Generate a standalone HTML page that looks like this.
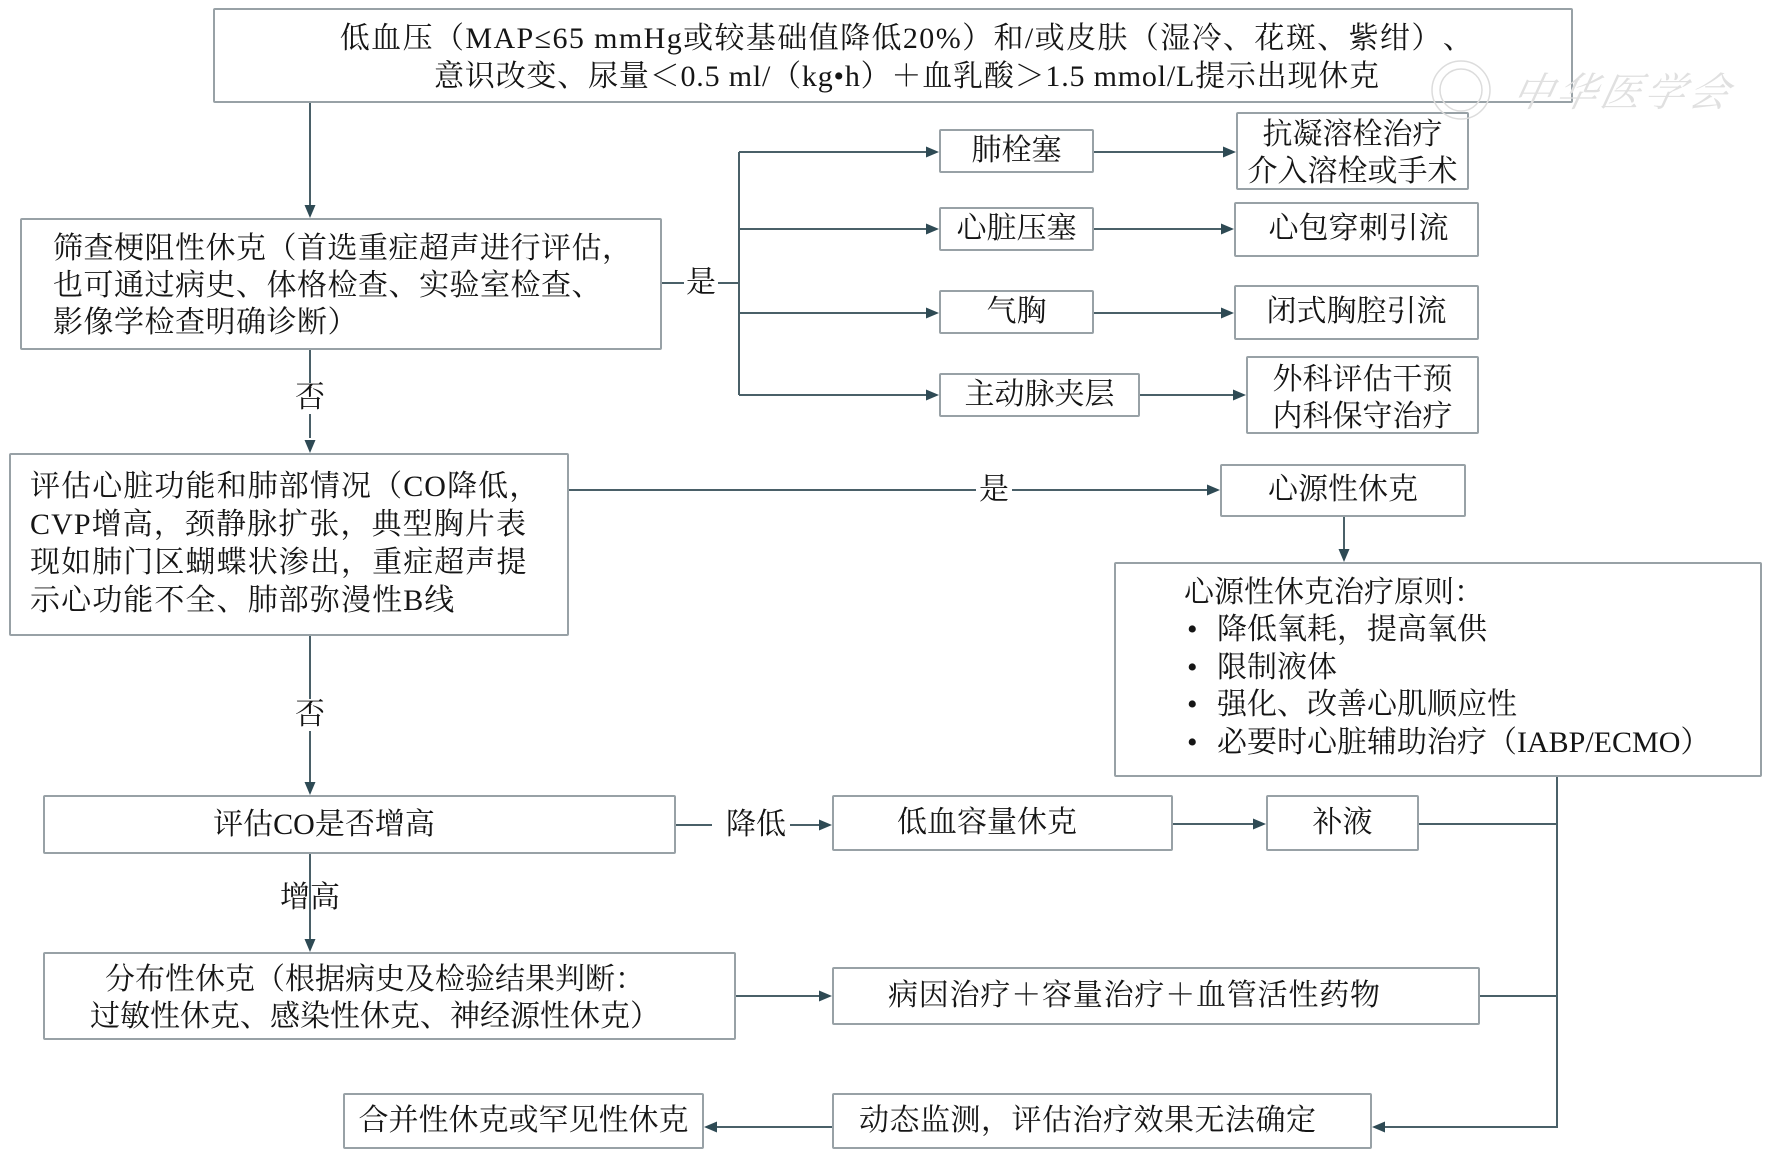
<!DOCTYPE html>
<html>
<head>
<meta charset="utf-8">
<style>
html,body{margin:0;padding:0;background:#fff;}
#c{position:relative;width:1772px;height:1155px;overflow:hidden;background:#fff;}
.b{position:absolute;border:2px solid #98a1a6;border-radius:2px;background:#fff;box-sizing:border-box;}
.t{position:absolute;font-family:"Liberation Serif","Noto Serif CJK SC",serif;font-size:30px;color:#151515;white-space:nowrap;line-height:36px;text-spacing-trim:space-all;}
.c{text-align:center;}
svg{position:absolute;left:0;top:0;}
</style>
</head>
<body>
<div id="c">

<!-- boxes -->
<div class="b" style="left:213px;top:8px;width:1360px;height:95px;"></div>
<div class="b" style="left:20px;top:218px;width:642px;height:132px;"></div>
<div class="b" style="left:939px;top:129px;width:155px;height:44px;"></div>
<div class="b" style="left:939px;top:207px;width:155px;height:44px;"></div>
<div class="b" style="left:939px;top:290px;width:155px;height:44px;"></div>
<div class="b" style="left:939px;top:373px;width:201px;height:44px;"></div>
<div class="b" style="left:1236px;top:112px;width:233px;height:78px;"></div>
<div class="b" style="left:1234px;top:202px;width:245px;height:55px;"></div>
<div class="b" style="left:1234px;top:285px;width:245px;height:55px;"></div>
<div class="b" style="left:1246px;top:356px;width:233px;height:78px;"></div>
<div class="b" style="left:9px;top:453px;width:560px;height:183px;"></div>
<div class="b" style="left:1220px;top:464px;width:246px;height:53px;"></div>
<div class="b" style="left:1114px;top:562px;width:648px;height:215px;"></div>
<div class="b" style="left:43px;top:795px;width:633px;height:59px;"></div>
<div class="b" style="left:832px;top:795px;width:341px;height:56px;"></div>
<div class="b" style="left:1266px;top:795px;width:153px;height:56px;"></div>
<div class="b" style="left:43px;top:952px;width:693px;height:88px;"></div>
<div class="b" style="left:832px;top:967px;width:648px;height:58px;"></div>
<div class="b" style="left:343px;top:1093px;width:361px;height:56px;"></div>
<div class="b" style="left:832px;top:1093px;width:540px;height:56px;"></div>

<!-- connectors -->
<svg width="1772" height="1155" viewBox="0 0 1772 1155">
<g fill="none" stroke="#4a6068" stroke-width="2">
<path d="M310 103 V206"/>
<path d="M662 283 H684 M718 283 H739"/>
<path d="M739 152 V395"/>
<path d="M739 152 H927 M739 229 H927 M739 313 H927 M739 395 H927"/>
<path d="M1094 152 H1223 M1094 229 H1222 M1094 313 H1222 M1140 395 H1234"/>
<path d="M310 350 V383 M310 414 V438"/>
<path d="M569 490 H976 M1012 490 H1207"/>
<path d="M1344 517 V550"/>
<path d="M310 636 V699 M310 731 V783"/>
<path d="M676 825 H712 M790 825 H820"/>
<path d="M1173 824 H1254"/>
<path d="M1419 824 H1557"/>
<path d="M310 854 V940"/>
<path d="M736 996 H820"/>
<path d="M1480 996 H1557"/>
<path d="M1557 777 V1127 H1384"/>
<path d="M832 1127 H716"/>
</g>
<g fill="#2e4a54">
<polygon points="310,218 304.5,205 315.5,205"/>
<polygon points="939,152 926,146.5 926,157.5"/>
<polygon points="939,229 926,223.5 926,234.5"/>
<polygon points="939,313 926,307.5 926,318.5"/>
<polygon points="939,395 926,389.5 926,400.5"/>
<polygon points="1236,152 1223,146.5 1223,157.5"/>
<polygon points="1234,229 1221,223.5 1221,234.5"/>
<polygon points="1234,313 1221,307.5 1221,318.5"/>
<polygon points="1246,395 1233,389.5 1233,400.5"/>
<polygon points="310,453 304.5,440 315.5,440"/>
<polygon points="1220,490 1207,484.5 1207,495.5"/>
<polygon points="1344,562 1338.5,549 1349.5,549"/>
<polygon points="310,795 304.5,782 315.5,782"/>
<polygon points="832,825 819,819.5 819,830.5"/>
<polygon points="1266,824 1253,818.5 1253,829.5"/>
<polygon points="310,952 304.5,939 315.5,939"/>
<polygon points="832,996 819,990.5 819,1001.5"/>
<polygon points="1372,1127 1385,1121.5 1385,1132.5"/>
<polygon points="704,1127 717,1121.5 717,1132.5"/>
</g>
<!-- watermark -->
<g fill="none" stroke="#dcdcdc" stroke-width="1.5">
<circle cx="1461" cy="90" r="29"/>
<circle cx="1461" cy="90" r="21"/>
</g>
<text x="1513" y="106" font-family="Noto Serif CJK SC, serif" font-size="40" fill="#e0e0e0" font-style="italic" letter-spacing="4" transform="skewX(-12) translate(20,0)">中华医学会</text>
</svg>

<!-- text -->
<div class="t c" style="left:227px;top:20px;width:1360px;line-height:38px;letter-spacing:1.4px;">低血压（MAP≤65 mmHg或较基础值降低20%）和/或皮肤（湿冷、花斑、紫绀）、</div>
<div class="t c" style="left:227px;top:58px;width:1360px;line-height:38px;letter-spacing:0.8px;">意识改变、尿量＜0.5 ml/（kg•h）＋血乳酸＞1.5 mmol/L提示出现休克</div>

<div class="t" style="left:53px;top:230px;line-height:37px;letter-spacing:0.5px;">筛查梗阻性休克（首选重症超声进行评估，<br>也可通过病史、体格检查、实验室检查、<br>影像学检查明确诊断）</div>

<div class="t c" style="left:684px;top:265px;width:34px;background:#fff;">是</div>

<div class="t c" style="left:939px;top:133px;width:155px;">肺栓塞</div>
<div class="t c" style="left:939px;top:211px;width:155px;">心脏压塞</div>
<div class="t c" style="left:939px;top:294px;width:155px;">气胸</div>
<div class="t c" style="left:939px;top:377px;width:201px;">主动脉夹层</div>

<div class="t c" style="left:1236px;top:116px;width:233px;line-height:37px;">抗凝溶栓治疗<br>介入溶栓或手术</div>
<div class="t c" style="left:1234px;top:211px;width:249px;">心包穿刺引流</div>
<div class="t c" style="left:1234px;top:294px;width:245px;">闭式胸腔引流</div>
<div class="t c" style="left:1246px;top:361px;width:233px;line-height:37px;">外科评估干预<br>内科保守治疗</div>

<div class="t c" style="left:292px;top:380px;width:36px;">否</div>

<div class="t" style="left:30px;top:468px;line-height:38px;letter-spacing:1.1px;">评估心脏功能和肺部情况（CO降低，<br>CVP增高，颈静脉扩张，典型胸片表<br>现如肺门区蝴蝶状渗出，重症超声提<br>示心功能不全、肺部弥漫性B线</div>

<div class="t c" style="left:976px;top:472px;width:36px;">是</div>
<div class="t c" style="left:1220px;top:472px;width:246px;">心源性休克</div>

<div class="t" style="left:1184px;top:575px;">心源性休克治疗原则：</div>
<div class="t" style="left:1187px;top:612px;">•</div><div class="t" style="left:1217px;top:612px;">降低氧耗，提高氧供</div>
<div class="t" style="left:1187px;top:650px;">•</div><div class="t" style="left:1217px;top:650px;">限制液体</div>
<div class="t" style="left:1187px;top:687px;">•</div><div class="t" style="left:1217px;top:687px;">强化、改善心肌顺应性</div>
<div class="t" style="left:1187px;top:725px;">•</div><div class="t" style="left:1217px;top:725px;">必要时心脏辅助治疗（IABP/ECMO）</div>

<div class="t c" style="left:292px;top:697px;width:36px;">否</div>

<div class="t c" style="left:43px;top:807px;width:562px;">评估CO是否增高</div>
<div class="t" style="left:726px;top:807px;">降低</div>
<div class="t" style="left:897px;top:805px;">低血容量休克</div>
<div class="t c" style="left:1266px;top:805px;width:153px;">补液</div>

<div class="t c" style="left:280px;top:880px;width:60px;">增高</div>

<div class="t c" style="left:43px;top:961px;width:664px;line-height:37px;">分布性休克（根据病史及检验结果判断：<br>过敏性休克、感染性休克、神经源性休克）</div>
<div class="t" style="left:888px;top:978px;letter-spacing:0.8px;">病因治疗＋容量治疗＋血管活性药物</div>

<div class="t c" style="left:343px;top:1103px;width:361px;">合并性休克或罕见性休克</div>
<div class="t" style="left:859px;top:1103px;letter-spacing:0.5px;">动态监测，评估治疗效果无法确定</div>

</div>
</body>
</html>
